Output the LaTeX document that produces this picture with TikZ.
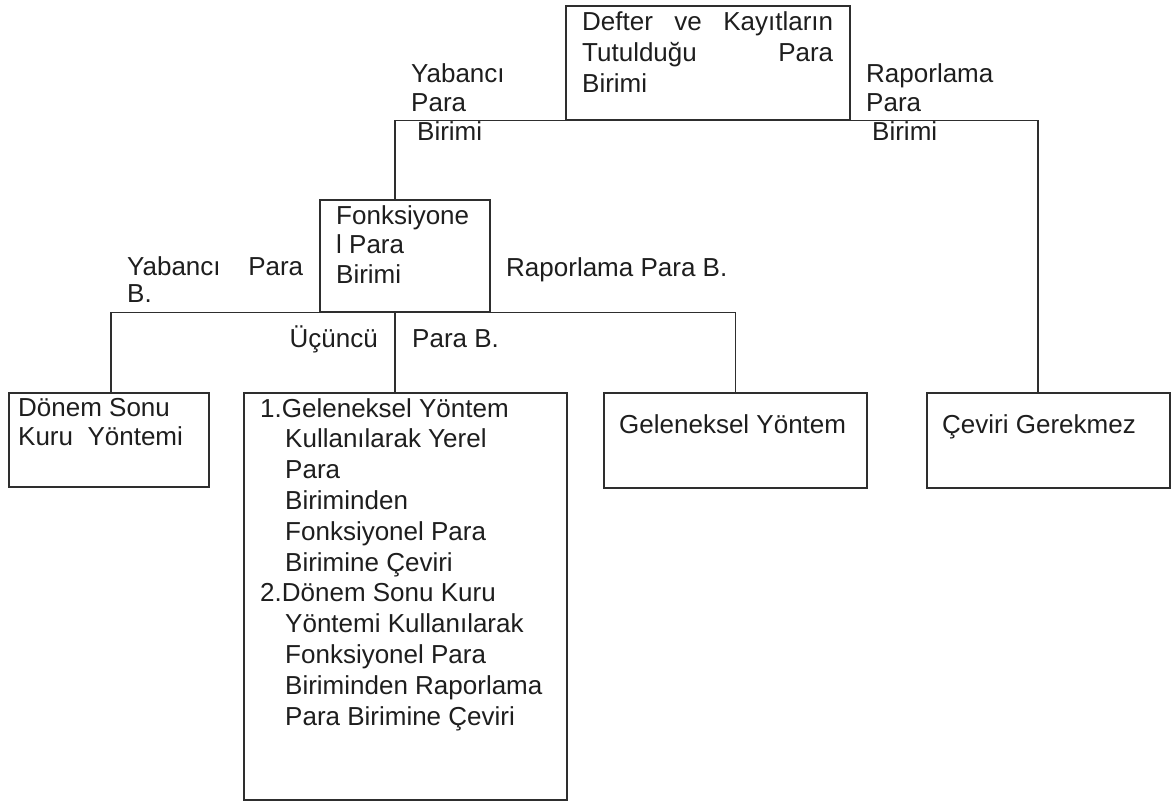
\documentclass[tikz,border=0pt]{standalone}
\usepackage{fontspec}
\setmainfont{Liberation Sans}
\definecolor{lc}{HTML}{2E2E2E}
\definecolor{tc}{HTML}{1E1E1E}
\newcommand\fsA{\fontsize{26}{30.8}\selectfont}
\newcommand\fsB{\fontsize{26}{29}\selectfont}
\newcommand\fsC{\fontsize{26}{29.5}\selectfont}
\newcommand\fsD{\fontsize{26}{27}\selectfont}
\begin{document}
\begin{tikzpicture}[x=1pt,y=-1pt,
  box/.style 2 args={draw=lc, line width=1.6pt, inner sep=0pt, anchor=north west,
    minimum width=#1, minimum height=#2},
  conn/.style={draw=lc, line width=1.6pt},
  lbl/.style={anchor=north west, inner sep=0pt, align=left, text=tc},
  one/.style={inner sep=0pt, text=tc, font=\fsA}]
\useasboundingbox[fill=white] (0,0) rectangle (1176,804);
% boxes
\node[box={284pt}{114pt}] (top)  at (565,5) {};
\node[box={170pt}{112pt}] (fonk) at (319,199) {};
\node[box={200pt}{94pt}]  (donem) at (8,392) {};
\node[box={323pt}{407pt}] (big)  at (243,392) {};
\node[box={263pt}{95pt}]  (gel)  at (603,392) {};
\node[box={243pt}{95pt}]  (cev)  at (926,392) {};
% junction points
\coordinate (fj) at (395,199);
\coordinate (cj) at (1038,392);
\coordinate (dj) at (111,392);
\coordinate (bj) at (395,392);
% connectors
\draw[conn] (top.south west) -| (fj);
\draw[conn] (top.south east) -| (cj);
\draw[conn] (fonk.south west) -| (dj);
\draw[conn] (fonk.south east) -| (gel.north);
\draw[conn] (bj |- fonk.south) -- (bj);
% texts
\node[lbl, font=\fsA] (ttop) at (582,9.1)
  {\strut\hbox to 251pt{Defter\hfill ve\hfill Kayıtların}\\
   \hbox to 251pt{Tutulduğu\hfill Para}\\ Birimi};
\node[lbl, font=\fsB] (lyab) at (411,61.7)
  {\strut Yabancı\\ Para\\ \hspace*{6pt}Birimi};
\node[lbl, font=\fsB] (lrap) at (866,61.7)
  {\strut Raporlama\\ Para\\ \hspace*{6pt}Birimi};
\node[lbl, font=\fsC] (tfonk) at (336,203.4)
  {\strut Fonksiyone\\ l Para\\ Birimi};
\node[one, anchor=base west] (lrapb) at (506,276) {Raporlama Para B.};
\node[lbl, font=\fsD] (lyabb) at (127,256.1)
  {\strut\hbox to 176pt{Yabancı\hfill Para}\\ B.};
\node[one, anchor=base east] (lucu) at (378,347) {Üçüncü};
\node[one, anchor=base west] (lparab) at (412,347) {Para B.};
\node[lbl, font=\fsB] (tdonem) at (18,395.7)
  {\strut Dönem Sonu\\ Kuru\ \ Yöntemi};
\node[lbl, font=\fsA] (tbig) at (260,395.4)
  {\strut 1.Geleneksel Yöntem\\
   \hspace*{25pt}Kullanılarak Yerel\\
   \hspace*{25pt}Para\\
   \hspace*{25pt}Biriminden\\
   \hspace*{25pt}Fonksiyonel Para\\
   \hspace*{25pt}Birimine Çeviri\\
   2.Dönem Sonu Kuru\\
   \hspace*{25pt}Yöntemi Kullanılarak\\
   \hspace*{25pt}Fonksiyonel Para\\
   \hspace*{25pt}Biriminden Raporlama\\
   \hspace*{25pt}Para Birimine Çeviri};
\node[one, anchor=base west] (tgel) at (619,433) {Geleneksel Yöntem};
\node[one, anchor=base west] (tcev) at (942,433) {Çeviri Gerekmez};
\end{tikzpicture}
\end{document}
